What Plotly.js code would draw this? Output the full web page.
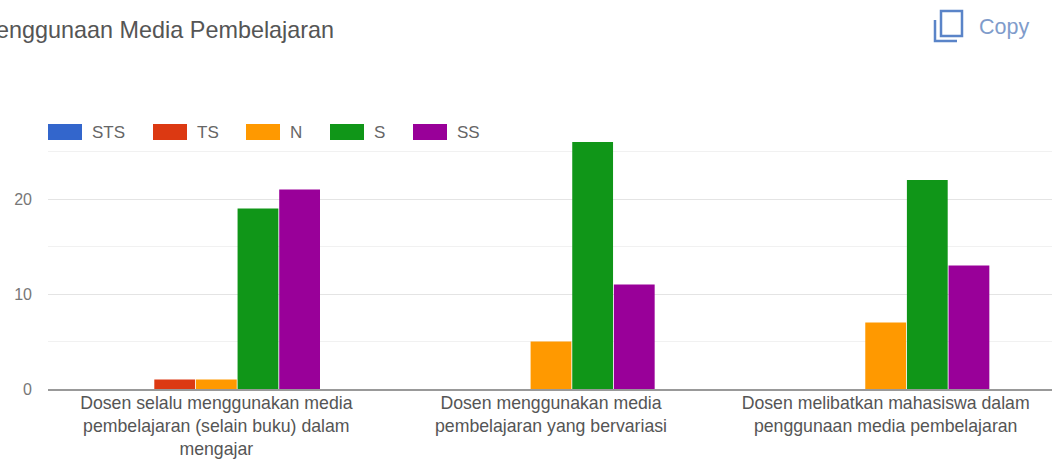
<!DOCTYPE html>
<html><head><meta charset="utf-8">
<script src="https://cdn.plot.ly/plotly-3.0.1.min.js"></script>
<style>html,body{margin:0;padding:0;background:#fff}#c{width:1052px;height:459px}</style>
</head><body><div id="c"></div>
<script>
var categories = ["Dosen selalu menggunakan media<br>pembelajaran (selain buku) dalam<br>mengajar","Dosen menggunakan media<br>pembelajaran yang bervariasi","Dosen melibatkan mahasiswa dalam<br>penggunaan media pembelajaran"];
var seriesNames = ["STS","TS","N","S","SS"];
var seriesColors = ["#3366cc","#dc3912","#ff9900","#109618","#990099"];
var STS = [0,0,0];
var TS = [1,0,0];
var N = [1,5,7];
var S = [19,26,22];
var SS = [21,11,13];
var allValues = [STS,TS,N,S,SS];
var legendSwatchLeft = [48,153,246,330,413];
var W=1052,H=459,mL=48,mR=0,mT=142,mB=70;
function px(x){return (x-mL)/(W-mL-mR);}
function py(y){return 1-(y-mT)/(H-mT-mB);}
var traces = seriesNames.map(function(n,i){return {type:"bar",name:n,x:categories,y:allValues[i],marker:{color:seriesColors[i]},showlegend:false};});
var shapes=[],annotations=[];
seriesNames.forEach(function(n,i){
  var l=legendSwatchLeft[i];
  shapes.push({type:"rect",xref:"paper",yref:"paper",x0:px(l),x1:px(l+34),y0:py(124),y1:py(140),fillcolor:seriesColors[i],line:{width:0}});
  annotations.push({xref:"paper",yref:"paper",x:px(l+42),y:py(132),xanchor:"left",yanchor:"middle",text:n,showarrow:false,font:{size:17,color:"#666"}});
});
shapes.push({type:"path",xref:"paper",yref:"paper",path:"M"+px(935)+","+py(20)+"L"+px(935)+","+py(41)+"L"+px(957)+","+py(41),line:{color:"#5a84c8",width:2.5}});
shapes.push({type:"rect",xref:"paper",yref:"paper",x0:px(941),x1:px(962),y0:py(11),y1:py(36),line:{color:"#5a84c8",width:2.5}});
annotations.push({xref:"paper",yref:"paper",x:px(977),y:py(27),xanchor:"left",yanchor:"middle",text:"Copy",showarrow:false,font:{size:21.5,color:"#7f9ccb"}});
annotations.push({xref:"paper",yref:"paper",x:px(-6),y:py(30),xanchor:"left",yanchor:"middle",text:"enggunaan Media Pembelajaran",showarrow:false,font:{size:23.4,color:"#555"}});
var layout = {
  width:W,height:H,paper_bgcolor:"#fff",plot_bgcolor:"#fff",
  font:{family:"Liberation Sans, Arial, sans-serif",color:"#444",size:12},
  margin:{l:mL,r:mR,t:mT,b:mB,pad:0},
  barmode:"group",bargap:0.378,bargroupgap:0.02,
  showlegend:false,
  xaxis:{type:"category",range:[-0.503,2.497],tickfont:{size:17.7,color:"#555"},showline:true,linecolor:"#999",linewidth:2,ticks:"",automargin:false,ticklabelstandoff:-3},
  yaxis:{range:[0,26],tickvals:[0,10,20],ticktext:["0","10","20"],tickfont:{size:16,color:"#777"},gridcolor:"#e4e4e4",zeroline:false,ticks:"",automargin:false,ticklabelstandoff:15,
    minor:{tickvals:[5,15,25],showgrid:true,gridcolor:"#f1f1f1"}},
  shapes:shapes,annotations:annotations
};
Plotly.newPlot("c",traces,layout,{displayModeBar:false});
</script></body></html>
